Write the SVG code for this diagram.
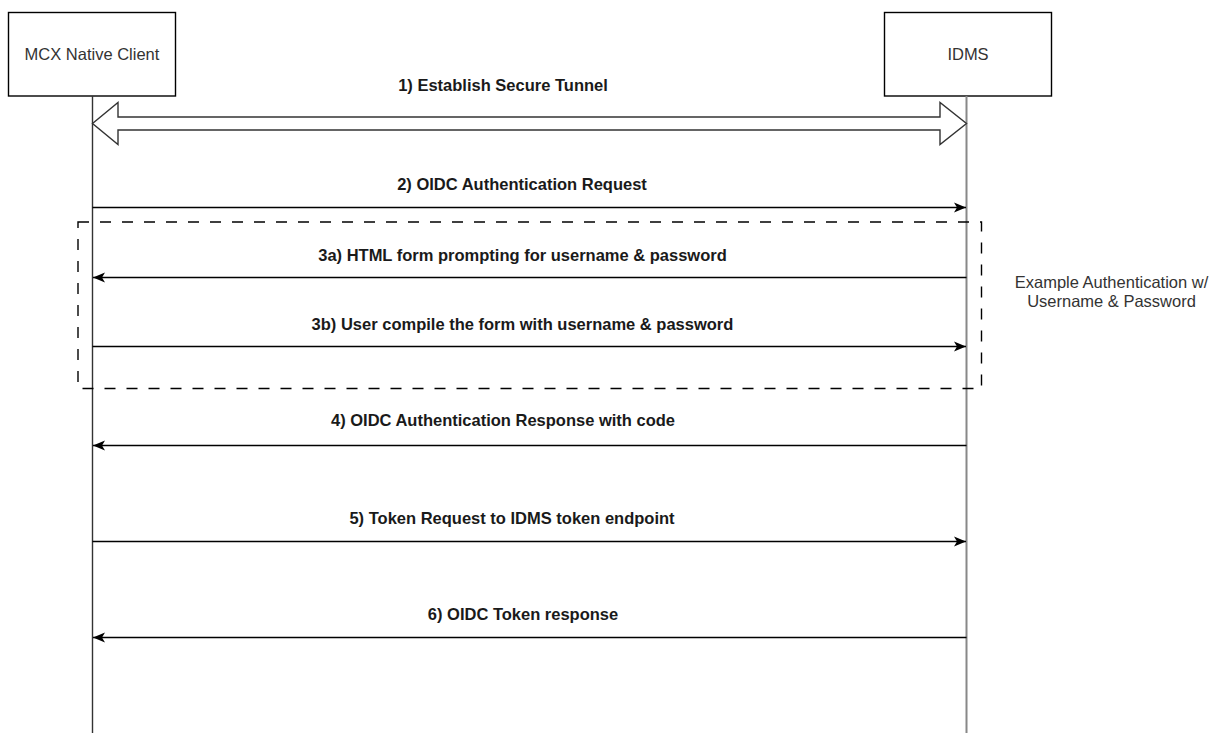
<svg xmlns="http://www.w3.org/2000/svg" width="1211" height="733" viewBox="0 0 1211 733">
<style>
  .box{fill:#fff;stroke:#000;stroke-width:1.4}
  .life{fill:none;stroke:#333;stroke-width:1.4}
  .life2{fill:none;stroke:#888;stroke-width:2}
  .msg{fill:none;stroke:#000;stroke-width:1.4}
  .t{font-family:"Liberation Sans",Arial,sans-serif;font-size:16.5px;fill:#333;text-anchor:middle}
  .lb{font-family:"Liberation Sans",Arial,sans-serif;font-size:16.5px;font-weight:bold;fill:#1a1a1a;text-anchor:middle}
  .dash{fill:none;stroke:#000;stroke-width:1.4;stroke-dasharray:11 11}
</style>
<defs>
  <marker id="ah" markerUnits="userSpaceOnUse" markerWidth="14" markerHeight="12" viewBox="0 0 14 12" refX="12" refY="6" orient="auto">
    <path d="M0,1 L12,6 L0,11 L3,6 z" fill="#000"/>
  </marker>
</defs>
<rect width="1211" height="733" fill="#fff"/>
<g id="client">
  <rect class="box" x="8.5" y="12.5" width="167" height="83.5"/>
  <text class="t" x="92" y="60">MCX Native Client</text>
</g>
<g id="idms">
  <rect class="box" x="884.5" y="12.5" width="167" height="83.5"/>
  <text class="t" x="968" y="60">IDMS</text>
</g>
<g id="lifelines">
  <line class="life" x1="92.5" y1="96" x2="92.5" y2="733"/>
  <line class="life2" x1="966.5" y1="96" x2="966.5" y2="733"/>
</g>
<g id="auth-frame">
  <rect class="dash" x="78" y="222" width="903.5" height="166.5"/>
  <text class="t" x="1111.5" y="288">Example Authentication w/</text>
  <text class="t" x="1111.5" y="307">Username &amp; Password</text>
</g>
<g id="connectors">
  <polygon points="92.5,123.5 118,102.5 118,117 940,117 940,102.5 966.5,123.5 940,144.5 940,130 118,130 118,144.5" fill="#fff" stroke="#333" stroke-width="1.4" stroke-linejoin="miter"/>
  <text class="lb" x="503" y="91">1) Establish Secure Tunnel</text>

  <line class="msg" x1="92.5" y1="207.5" x2="966" y2="207.5" marker-end="url(#ah)"/>
  <text class="lb" x="522" y="189.5">2) OIDC Authentication Request</text>

  <line class="msg" x1="966.5" y1="277.5" x2="93" y2="277.5" marker-end="url(#ah)"/>
  <text class="lb" x="522.5" y="261">3a) HTML form prompting for username &amp; password</text>

  <line class="msg" x1="92.5" y1="346.5" x2="966" y2="346.5" marker-end="url(#ah)"/>
  <text class="lb" x="522.5" y="330">3b) User compile the form with username &amp; password</text>

  <line class="msg" x1="966.5" y1="445.5" x2="93" y2="445.5" marker-end="url(#ah)"/>
  <text class="lb" x="503" y="426">4) OIDC Authentication Response with code</text>

  <line class="msg" x1="92.5" y1="541.5" x2="966" y2="541.5" marker-end="url(#ah)"/>
  <text class="lb" x="512" y="523.5">5) Token Request to IDMS token endpoint</text>

  <line class="msg" x1="966.5" y1="637.5" x2="93" y2="637.5" marker-end="url(#ah)"/>
  <text class="lb" x="523" y="620">6) OIDC Token response</text>
</g>
</svg>
